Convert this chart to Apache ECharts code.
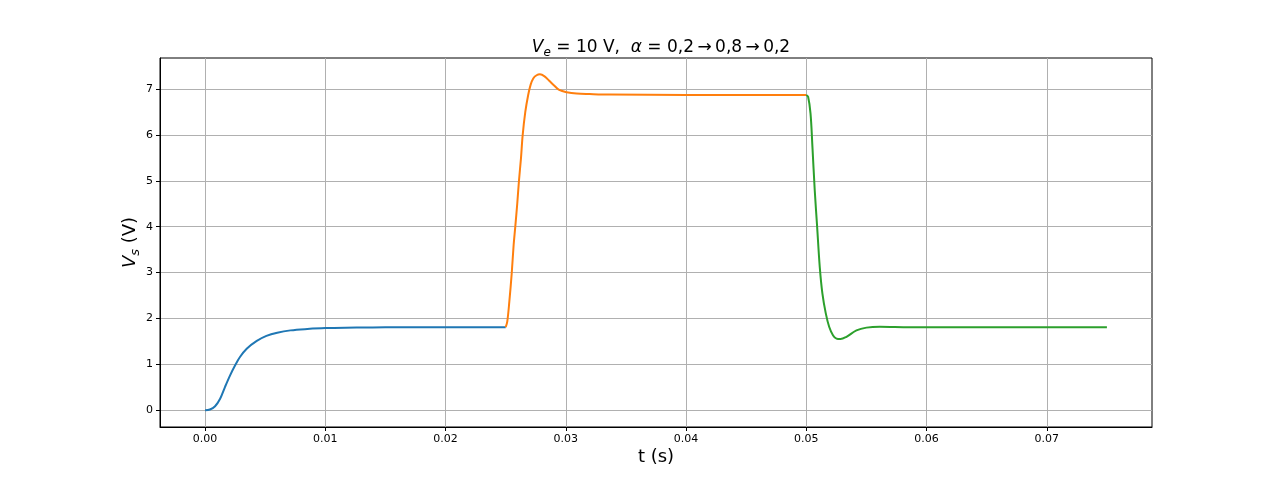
<!DOCTYPE html>
<html>
<head>
<meta charset="utf-8">
<script src="https://cdn.jsdelivr.net/npm/echarts@6/dist/echarts.min.js"></script>
<style>
    html, body { margin: 0; padding: 0; background: #ffffff; }
    #chart { width: 1280px; height: 480px; }
</style>
</head>
<body>
<div id="chart"></div>
<script>
    // values: [t (s), Vs (V)]
    var riseAlpha02 = [
        [0, 0], [0.0004, 0.015], [0.00083, 0.087], [0.00125, 0.25], [0.00166, 0.51],
        [0.00208, 0.76], [0.0025, 0.98], [0.0029, 1.16], [0.00346, 1.34], [0.0043, 1.51],
        [0.0051, 1.62], [0.006, 1.69], [0.0071, 1.74], [0.0085, 1.77], [0.01, 1.79],
        [0.0126, 1.80], [0.015, 1.81], [0.02, 1.81], [0.025, 1.81]
    ];
    var stepAlpha08 = [
        [0.025, 1.81], [0.02513, 1.93], [0.0253, 2.36], [0.0255, 2.98], [0.02566, 3.60],
        [0.02579, 3.98], [0.02596, 4.50], [0.0261, 4.99], [0.02627, 5.49], [0.02641, 5.99],
        [0.02663, 6.50], [0.02687, 6.87], [0.02707, 7.09], [0.02729, 7.23], [0.02757, 7.30],
        [0.02785, 7.32], [0.02826, 7.27], [0.02862, 7.18], [0.02905, 7.07], [0.02945, 6.98],
        [0.03007, 6.93], [0.0309, 6.90], [0.032, 6.89], [0.03367, 6.88], [0.04, 6.87],
        [0.05, 6.87]
    ];
    var stepBack02 = [
        [0.05, 6.87], [0.05015, 6.83], [0.05035, 6.47], [0.05051, 5.74], [0.0507, 4.80],
        [0.0509, 4.00], [0.05112, 3.12], [0.05134, 2.54], [0.05162, 2.11], [0.0519, 1.82],
        [0.05223, 1.63], [0.05251, 1.56], [0.05284, 1.55], [0.05334, 1.60], [0.05417, 1.74],
        [0.055, 1.80], [0.05611, 1.82], [0.0586, 1.81], [0.065, 1.81], [0.075, 1.81]
    ];
    var xTicks = [0, 0.01, 0.02, 0.03, 0.04, 0.05, 0.06, 0.07];
    var yTicks = [0, 1, 2, 3, 4, 5, 6, 7];

    var font = 'DejaVu Sans';
    var chart = echarts.init(document.getElementById('chart'));

    // math-style label pieces: italic symbol, subscript, plain text
    function mathRich(size) {
        return {
            i: { fontFamily: font, fontSize: size, fontStyle: 'italic', fontWeight: 'normal', color: '#000', verticalAlign: 'bottom' },
            sub: { fontFamily: font, fontSize: Math.round(size * 0.72), fontStyle: 'italic', fontWeight: 'normal', color: '#000', verticalAlign: 'bottom', padding: [0, 0, -3, 0] },
            n: { fontFamily: font, fontSize: size, fontWeight: 'normal', color: '#000', verticalAlign: 'bottom' }
        };
    }

    function line(data, color) {
        return {
            type: 'line',
            data: data,
            showSymbol: false,
            smooth: 0.35,
            lineStyle: { color: color, width: 2 },
            itemStyle: { color: color },
            z: 3
        };
    }

    chart.setOption({
        animation: false,
        title: {
            text: '{i|V}{sub|e}{n| = 10 V,  }{i|α}{n| = 0,2\u2009→\u20090,8\u2009→\u20090,2}',
            left: 656,
            top: 34,
            textAlign: 'center',
            textStyle: { fontWeight: 'normal', rich: mathRich(17) }
        },
        grid: {
            left: 160, right: 128, top: 58, bottom: 53,
            show: true, borderColor: '#000', borderWidth: 1
        },
        xAxis: {
            type: 'value',
            min: -0.00375,
            max: 0.07875,
            name: 't (s)',
            nameLocation: 'middle',
            nameGap: 21,
            nameMoveOverlap: false,
            nameTextStyle: { fontFamily: font, fontSize: 18, color: '#000' },
            axisLine: { onZero: false, lineStyle: { color: '#000' } },
            axisTick: { inside: false, length: 4, customValues: xTicks, lineStyle: { color: '#000' } },
            axisLabel: {
                customValues: xTicks, margin: 7, fontFamily: font, fontSize: 11, color: '#000',
                formatter: function (v) { return v.toFixed(2); }
            },
            splitLine: { show: true, customValues: xTicks, lineStyle: { color: '#b0b0b0', width: 1 } }
        },
        yAxis: {
            type: 'value',
            min: -0.366,
            max: 7.676,
            name: '{i|V}{sub|s}{n| (V)}',
            nameLocation: 'middle',
            nameRotate: 90,
            nameGap: 21,
            nameMoveOverlap: false,
            nameTextStyle: { rich: mathRich(18) },
            axisLine: { onZero: false, lineStyle: { color: '#000' } },
            axisTick: { inside: false, length: 4, customValues: yTicks, lineStyle: { color: '#000' } },
            axisLabel: { customValues: yTicks, margin: 7, fontFamily: font, fontSize: 11, color: '#000' },
            splitLine: { show: true, customValues: yTicks, lineStyle: { color: '#b0b0b0', width: 1 } }
        },
        series: [
            line(riseAlpha02, '#1f77b4'),
            line(stepAlpha08, '#ff7f0e'),
            line(stepBack02, '#2ca02c')
        ]
    });
</script>
</body>
</html>
